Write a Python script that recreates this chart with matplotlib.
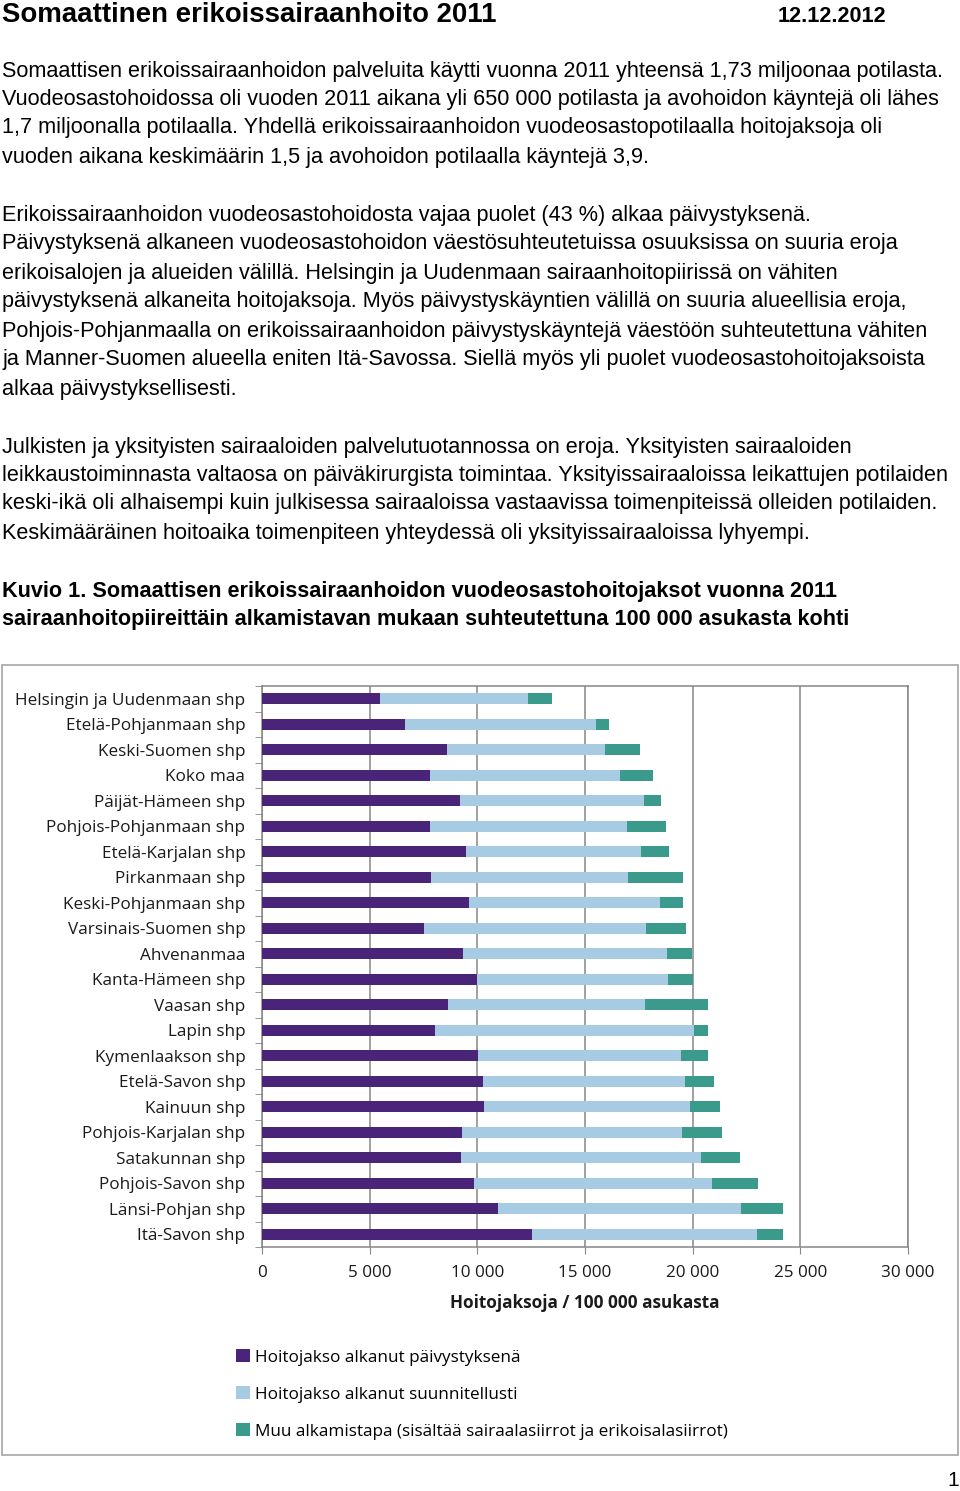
import numpy as np
import matplotlib.pyplot as plt
from matplotlib.patches import Rectangle

# data
alueet = ["Helsingin ja Uudenmaan shp", "Etelä-Pohjanmaan shp", "Keski-Suomen shp",
          "Koko maa", "Päijät-Hämeen shp", "Pohjois-Pohjanmaan shp", "Etelä-Karjalan shp",
          "Pirkanmaan shp", "Keski-Pohjanmaan shp", "Varsinais-Suomen shp", "Ahvenanmaa",
          "Kanta-Hämeen shp", "Vaasan shp", "Lapin shp", "Kymenlaakson shp",
          "Etelä-Savon shp", "Kainuun shp", "Pohjois-Karjalan shp", "Satakunnan shp",
          "Pohjois-Savon shp", "Länsi-Pohjan shp", "Itä-Savon shp"]
paivystys = [5460, 6660, 8590, 7820, 9180, 7790, 9460, 7830, 9600, 7520, 9330,
             9990, 8620, 8020, 10030, 10250, 10320, 9310, 9225, 9840, 10970, 12540]
suunniteltu = [6880, 8840, 7350, 8810, 8575, 9150, 8140, 9160, 8900, 10330, 9460,
               8880, 9150, 12040, 9430, 9380, 9570, 10210, 11160, 11060, 11260, 10460]
muu = [1110, 620, 1610, 1530, 775, 1830, 1300, 2540, 1050, 1860, 1180,
       1160, 2940, 650, 1250, 1360, 1390, 1840, 1820, 2120, 1960, 1180]
sarjat = ["Hoitojakso alkanut päivystyksenä", "Hoitojakso alkanut suunnitellusti",
          "Muu alkamistapa (sisältää sairaalasiirrot ja erikoisalasiirrot)"]
xticks = [0, 5000, 10000, 15000, 20000, 25000, 30000]
xticklabels = ["0", "5 000", "10 000", "15 000", "20 000", "25 000", "30 000"]

W, H = 960, 1491
fig = plt.figure(figsize=(W / 100, H / 100), dpi=100)

def fy(y):
    return 1 - y / H

body = "Liberation Sans"
fig.text(2 / W, fy(15), "Somaattinen erikoissairaanhoito 2011", family=body,
         fontsize=19.9, fontweight="bold", va="center")
fig.text(778 / W, fy(16), "12.12.2012", family=body, fontsize=15.6,
         fontweight="bold", va="center")

kappaleet = [
    (71, "Somaattisen erikoissairaanhoidon palveluita käytti vuonna 2011 yhteensä 1,73 miljoonaa potilasta."),
    (100, "Vuodeosastohoidossa oli vuoden 2011 aikana yli 650 000 potilasta ja avohoidon käyntejä oli lähes"),
    (128, "1,7 miljoonalla potilaalla. Yhdellä erikoissairaanhoidon vuodeosastopotilaalla hoitojaksoja oli"),
    (157, "vuoden aikana keskimäärin 1,5 ja avohoidon potilaalla käyntejä 3,9."),
    (215, "Erikoissairaanhoidon vuodeosastohoidosta vajaa puolet (43 %) alkaa päivystyksenä."),
    (244, "Päivystyksenä alkaneen vuodeosastohoidon väestösuhteutetuissa osuuksissa on suuria eroja"),
    (273, "erikoisalojen ja alueiden välillä. Helsingin ja Uudenmaan sairaanhoitopiirissä on vähiten"),
    (302, "päivystyksenä alkaneita hoitojaksoja. Myös päivystyskäyntien välillä on suuria alueellisia eroja,"),
    (331, "Pohjois-Pohjanmaalla on erikoissairaanhoidon päivystyskäyntejä väestöön suhteutettuna vähiten"),
    (360, "ja Manner-Suomen alueella eniten Itä-Savossa. Siellä myös yli puolet vuodeosastohoitojaksoista"),
    (389, "alkaa päivystyksellisesti."),
    (447, "Julkisten ja yksityisten sairaaloiden palvelutuotannossa on eroja. Yksityisten sairaaloiden"),
    (475, "leikkaustoiminnasta valtaosa on päiväkirurgista toimintaa. Yksityissairaaloissa leikattujen potilaiden"),
    (504, "keski-ikä oli alhaisempi kuin julkisessa sairaaloissa vastaavissa toimenpiteissä olleiden potilaiden."),
    (533, "Keskimääräinen hoitoaika toimenpiteen yhteydessä oli yksityissairaaloissa lyhyempi."),
]
for y, t in kappaleet:
    fig.text(2 / W, fy(y), t, family=body, fontsize=15.6, va="center")

fig.text(2 / W, fy(591), "Kuvio 1. Somaattisen erikoissairaanhoidon vuodeosastohoitojaksot vuonna 2011",
         family=body, fontsize=15.6, fontweight="bold", va="center")
fig.text(2 / W, fy(620), "sairaanhoitopiireittäin alkamistavan mukaan suhteutettuna 100 000 asukasta kohti",
         family=body, fontsize=15.6, fontweight="bold", va="center")

# chart frame
fig.patches.append(Rectangle((2 / W, fy(1455)), 956 / W, 790 / H, transform=fig.transFigure,
                             fill=False, edgecolor="#a6a6a6", linewidth=1.2))

ax = fig.add_axes([262 / W, fy(1247), 646 / W, 561 / H])
y = np.arange(len(alueet))
a = np.array(paivystys)
b = np.array(suunniteltu)
c = np.array(muu)
colors = ["#4a2479", "#a7cbe3", "#3a9a8b"]
h = 0.45
ax.barh(y, a, height=h, color=colors[0], label=sarjat[0], zorder=3)
ax.barh(y, b, left=a, height=h, color=colors[1], label=sarjat[1], zorder=3)
ax.barh(y, c, left=a + b, height=h, color=colors[2], label=sarjat[2], zorder=3)

ax.set_xlim(0, 30000)
ax.set_ylim(len(alueet) - 0.5, -0.5)
ax.set_xticks(xticks)
ax.set_xticklabels(xticklabels)
ax.set_yticks(y)
ax.set_yticklabels(alueet)
ax.set_yticks(np.arange(len(alueet) + 1) - 0.5, minor=True)
chart_font = "Open Sans"
for lab in ax.get_xticklabels() + ax.get_yticklabels():
    lab.set_family(chart_font)
    lab.set_fontsize(12.3)
    lab.set_color("#1a1a1a")
ax.tick_params(axis="y", which="major", length=0, pad=12)
ax.tick_params(axis="y", which="minor", length=5, color="#868686", direction="out")
ax.tick_params(axis="x", length=5, color="#868686", direction="out", pad=8)
ax.xaxis.grid(True, color="#868686", linewidth=1.1, zorder=0)
for s in ax.spines.values():
    s.set_color("#868686")
    s.set_linewidth(1.1)
ax.set_xlabel("Hoitojaksoja / 100 000 asukasta", family=chart_font, fontsize=12.3,
              fontweight="bold", labelpad=9, color="#1a1a1a")

leg = fig.legend(loc="upper left", bbox_to_anchor=(221 / W, fy(1334)), frameon=False,
                 prop={"family": chart_font, "size": 12.3}, handlelength=0.8,
                 handleheight=0.8, handletextpad=0.3, labelspacing=1.2)

fig.text(947 / W, fy(1481), "1", family=body, fontsize=15, va="center")

plt.savefig("out.png", dpi=100)
